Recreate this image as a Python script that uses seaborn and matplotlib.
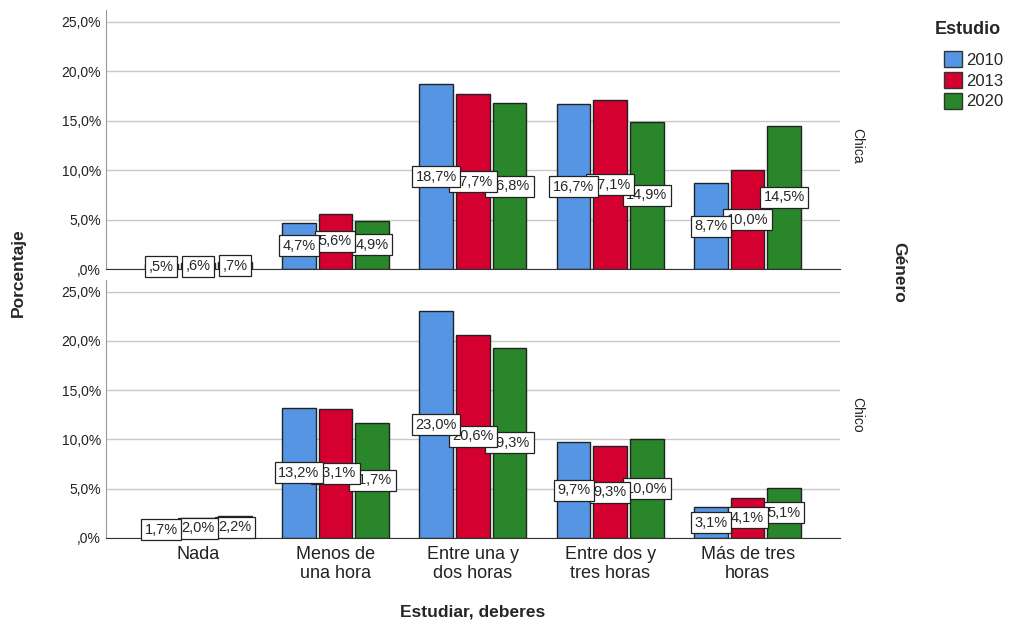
import matplotlib
matplotlib.use("Agg")
import matplotlib.pyplot as plt
from matplotlib.patches import Patch
import pandas as pd
import seaborn as sns

# data
categorias = ["Nada", "Menos de\nuna hora", "Entre una y\ndos horas",
              "Entre dos y\ntres horas", "Más de tres\nhoras"]
estudios = ["2010", "2013", "2020"]
chica_2010 = [0.5, 4.7, 18.7, 16.7, 8.7]
chica_2013 = [0.6, 5.6, 17.7, 17.1, 10.0]
chica_2020 = [0.7, 4.9, 16.8, 14.9, 14.5]
chico_2010 = [1.7, 13.2, 23.0, 9.7, 3.1]
chico_2013 = [2.0, 13.1, 20.6, 9.3, 4.1]
chico_2020 = [2.2, 11.7, 19.3, 10.0, 5.1]
yticks = [0, 5, 10, 15, 20, 25]

colores = ["#5595E3", "#D4002F", "#2A862A"]

rows = []
for genero, series in [("Chica", [chica_2010, chica_2013, chica_2020]),
                       ("Chico", [chico_2010, chico_2013, chico_2020])]:
    for est, vals in zip(estudios, series):
        for cat, v in zip(categorias, vals):
            rows.append({"Género": genero, "Estudio": est,
                         "Estudiar": cat, "Porcentaje": v})
df = pd.DataFrame(rows)

sns.set_style("white")
plt.rcParams["font.family"] = ["Liberation Sans", "DejaVu Sans"]

fig = plt.figure(figsize=(10.24, 6.26), dpi=100)
ax_top = fig.add_axes([0.1035, 0.570, 0.7165, 0.414])
ax_bot = fig.add_axes([0.1035, 0.1406, 0.7165, 0.4124])


def fmt(v):
    s = f"{v:.1f}%".replace(".", ",")
    if s.startswith("0"):
        s = s[1:]
    return s


for ax, genero in [(ax_top, "Chica"), (ax_bot, "Chico")]:
    sub = df[df["Género"] == genero]
    sns.barplot(data=sub, x="Estudiar", y="Porcentaje", hue="Estudio",
                order=categorias, hue_order=estudios, palette=colores,
                saturation=1, width=0.8, gap=0.08, edgecolor="#222222",
                linewidth=1.0, legend=False, ax=ax, zorder=2)
    ax.set_xlim(-0.67, 4.67)
    ax.set_ylim(0, 26.2)
    ax.set_yticks(yticks)
    ax.set_yticklabels([fmt(t) if t else ",0%" for t in yticks], fontsize=10,
                       color="#222222")
    ax.yaxis.grid(True, color="#c8c8c8", linewidth=1.0, zorder=0)
    ax.set_axisbelow(True)
    for s in ["top", "right"]:
        ax.spines[s].set_visible(False)
    ax.spines["left"].set_color("#999999")
    ax.spines["bottom"].set_color("#333333")
    ax.tick_params(axis="both", length=0)
    ax.set_xlabel("")
    ax.set_ylabel("")
    ax.text(1.014, 0.5 * 25 / 26.2, genero, transform=ax.transAxes,
            rotation=-90, ha="left", va="center", fontsize=10, color="#222222")

    # value labels at half bar height, earlier series drawn on top
    n = len(ax.containers)
    for i, cont in enumerate(ax.containers):
        for bar in cont:
            h = bar.get_height()
            ax.text(bar.get_x() + bar.get_width() / 2, h / 2, fmt(h),
                    ha="center", va="center", fontsize=10.5, zorder=10 + n - i,
                    bbox=dict(boxstyle="square,pad=0.24", fc="white",
                              ec="#222222", lw=0.9))

ax_top.set_xticklabels([])
ax_bot.set_xticklabels(categorias, fontsize=13, linespacing=1.15,
                       color="#222222")
ax_bot.tick_params(axis="x", pad=6)
ax_bot.set_xlabel("Estudiar, deberes", fontsize=12.5, fontweight="bold",
                  labelpad=16)

fig.text(0.018, 0.565, "Porcentaje", rotation=90, ha="center", va="center",
         fontsize=12.5, fontweight="bold")
fig.text(0.878, 0.565, "Género", rotation=-90, ha="center", va="center",
         fontsize=12.5, fontweight="bold")

fig.text(935 / 1024, 1 - 30 / 626, "Estudio", ha="left", va="center",
         fontsize=13, fontweight="bold")
handles = [Patch(facecolor=c, edgecolor="#333333", label=e)
           for c, e in zip(colores, estudios)]
fig.legend(handles=handles, loc="upper left",
           bbox_to_anchor=(944 / 1024, 1 - 51 / 626), frameon=False,
           fontsize=12, handlelength=1.1, handleheight=1.1, handletextpad=0.2,
           labelspacing=0.25, borderaxespad=0, borderpad=0)

fig.savefig("out.png", dpi=100)
